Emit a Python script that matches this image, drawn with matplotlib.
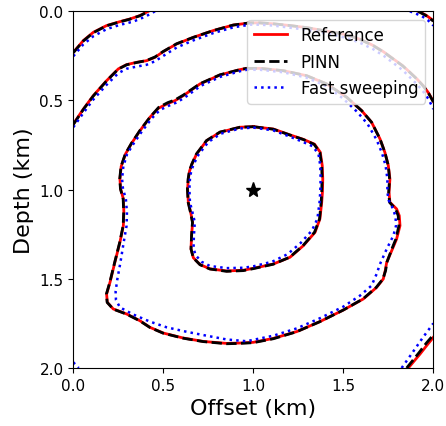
import matplotlib
matplotlib.use("Agg")
import matplotlib.pyplot as plt

# source position (km)
src_x, src_z = 1.0, 1.0

# traced isochrons, (offset, depth) in km
ref_c1 = [(1.0, 0.647), (1.111, 0.660), (1.204, 0.693), (1.278, 0.718), (1.340, 0.745),
          (1.372, 0.790), (1.383, 0.865), (1.386, 0.940), (1.384, 1.015), (1.380, 1.071),
          (1.370, 1.164), (1.343, 1.239), (1.278, 1.314), (1.204, 1.379), (1.111, 1.417),
          (1.0, 1.441), (0.944, 1.452), (0.852, 1.456), (0.759, 1.444), (0.704, 1.420),
          (0.667, 1.382), (0.654, 1.333), (0.657, 1.258), (0.663, 1.183), (0.652, 1.127),
          (0.639, 1.071), (0.635, 0.996), (0.639, 0.940), (0.646, 0.895), (0.660, 0.855),
          (0.685, 0.800), (0.741, 0.725), (0.815, 0.678), (0.926, 0.650), (1.0, 0.647)]
pinn_c1 = [(1.0, 0.647), (1.111, 0.661), (1.204, 0.694), (1.278, 0.719), (1.338, 0.746),
           (1.370, 0.792), (1.380, 0.865), (1.382, 0.940), (1.380, 1.015), (1.377, 1.071),
           (1.368, 1.164), (1.340, 1.239), (1.276, 1.314), (1.202, 1.379), (1.111, 1.418),
           (1.0, 1.443), (0.944, 1.454), (0.852, 1.458), (0.759, 1.445), (0.704, 1.421),
           (0.667, 1.383), (0.654, 1.333), (0.657, 1.258), (0.662, 1.183), (0.651, 1.127),
           (0.638, 1.071), (0.634, 0.996), (0.638, 0.940), (0.645, 0.895), (0.659, 0.855),
           (0.684, 0.800), (0.740, 0.725), (0.815, 0.677), (0.926, 0.650), (1.0, 0.647)]
fs_c1 = [(1.0, 0.652), (1.111, 0.668), (1.204, 0.703), (1.270, 0.730), (1.330, 0.757),
         (1.362, 0.800), (1.372, 0.865), (1.374, 0.940), (1.372, 1.015), (1.368, 1.071),
         (1.356, 1.164), (1.325, 1.230), (1.262, 1.300), (1.190, 1.362), (1.105, 1.404),
         (1.0, 1.430), (0.944, 1.438), (0.852, 1.440), (0.759, 1.428), (0.712, 1.404),
         (0.680, 1.368), (0.668, 1.330), (0.670, 1.258), (0.675, 1.183), (0.662, 1.127),
         (0.648, 1.071), (0.645, 0.996), (0.648, 0.940), (0.655, 0.895), (0.669, 0.857),
         (0.695, 0.805), (0.750, 0.733), (0.820, 0.686), (0.926, 0.657), (1.0, 0.652)]

ref_c2 = [(0.963, 0.320), (1.037, 0.320), (1.167, 0.333), (1.296, 0.361), (1.407, 0.407),
          (1.519, 0.482), (1.602, 0.557), (1.657, 0.622), (1.704, 0.716), (1.731, 0.791),
          (1.750, 0.865), (1.759, 0.940), (1.754, 1.015), (1.759, 1.071), (1.796, 1.108),
          (1.811, 1.146), (1.815, 1.202), (1.796, 1.277), (1.769, 1.342), (1.741, 1.408),
          (1.733, 1.454), (1.722, 1.501), (1.685, 1.548), (1.611, 1.613), (1.500, 1.675),
          (1.370, 1.740), (1.241, 1.796), (1.111, 1.834), (1.0, 1.856), (0.926, 1.860),
          (0.852, 1.862), (0.722, 1.851), (0.611, 1.832), (0.500, 1.804), (0.426, 1.772),
          (0.370, 1.735), (0.296, 1.697), (0.222, 1.669), (0.189, 1.632), (0.185, 1.585),
          (0.204, 1.519), (0.231, 1.407), (0.259, 1.295), (0.278, 1.202), (0.281, 1.127),
          (0.278, 1.052), (0.263, 0.996), (0.259, 0.940), (0.266, 0.870), (0.290, 0.800),
          (0.324, 0.740), (0.370, 0.670), (0.426, 0.594), (0.472, 0.544), (0.519, 0.520),
          (0.565, 0.501), (0.611, 0.473), (0.704, 0.407), (0.815, 0.357), (0.926, 0.327),
          (0.963, 0.320)]
pinn_c2 = [(0.963, 0.320), (1.037, 0.320), (1.167, 0.333), (1.296, 0.361), (1.407, 0.407),
           (1.519, 0.482), (1.602, 0.557), (1.657, 0.622), (1.704, 0.716), (1.731, 0.791),
           (1.750, 0.865), (1.757, 0.940), (1.752, 1.015), (1.757, 1.071), (1.790, 1.108),
           (1.805, 1.146), (1.809, 1.202), (1.792, 1.277), (1.766, 1.342), (1.742, 1.408),
           (1.735, 1.454), (1.720, 1.501), (1.683, 1.548), (1.609, 1.613), (1.498, 1.676),
           (1.368, 1.741), (1.240, 1.797), (1.111, 1.836), (1.0, 1.858), (0.926, 1.862),
           (0.852, 1.864), (0.722, 1.852), (0.611, 1.833), (0.500, 1.805), (0.426, 1.773),
           (0.370, 1.736), (0.296, 1.698), (0.222, 1.670), (0.188, 1.632), (0.184, 1.585),
           (0.203, 1.519), (0.230, 1.407), (0.258, 1.295), (0.277, 1.202), (0.280, 1.127),
           (0.277, 1.052), (0.262, 0.996), (0.258, 0.940), (0.265, 0.870), (0.289, 0.800),
           (0.323, 0.740), (0.369, 0.670), (0.426, 0.594), (0.475, 0.538), (0.525, 0.512),
           (0.565, 0.497), (0.611, 0.470), (0.704, 0.406), (0.815, 0.356), (0.926, 0.327),
           (0.963, 0.320)]
fs_c2 = [(0.963, 0.328), (1.037, 0.328), (1.167, 0.342), (1.296, 0.372), (1.407, 0.420),
         (1.500, 0.490), (1.578, 0.565), (1.635, 0.632), (1.685, 0.720), (1.715, 0.795),
         (1.735, 0.865), (1.745, 0.940), (1.745, 1.015), (1.752, 1.060), (1.775, 1.105),
         (1.790, 1.150), (1.793, 1.202), (1.778, 1.258), (1.741, 1.333), (1.704, 1.417),
         (1.685, 1.473), (1.657, 1.538), (1.593, 1.594), (1.500, 1.656), (1.370, 1.721),
         (1.241, 1.778), (1.111, 1.819), (1.0, 1.842), (0.963, 1.850), (0.852, 1.840),
         (0.741, 1.819), (0.630, 1.797), (0.519, 1.772), (0.426, 1.740), (0.333, 1.700),
         (0.259, 1.660), (0.237, 1.618), (0.235, 1.570), (0.245, 1.500), (0.262, 1.407),
         (0.280, 1.295), (0.296, 1.202), (0.298, 1.127), (0.292, 1.052), (0.276, 0.996),
         (0.271, 0.940), (0.278, 0.870), (0.299, 0.800), (0.333, 0.745), (0.380, 0.675),
         (0.436, 0.600), (0.482, 0.553), (0.527, 0.531), (0.572, 0.512), (0.617, 0.485),
         (0.708, 0.418), (0.818, 0.367), (0.926, 0.336), (0.963, 0.328)]

ref_c3 = [(0.0, 0.632), (0.056, 0.548), (0.111, 0.473), (0.185, 0.389), (0.250, 0.323),
          (0.296, 0.299), (0.352, 0.286), (0.407, 0.277), (0.454, 0.258), (0.500, 0.226),
          (0.574, 0.183), (0.667, 0.146), (0.778, 0.108), (0.889, 0.077), (0.981, 0.065),
          (1.037, 0.065), (1.111, 0.070), (1.204, 0.080), (1.300, 0.092), (1.389, 0.108),
          (1.470, 0.122), (1.537, 0.136), (1.600, 0.160), (1.667, 0.192), (1.725, 0.228),
          (1.778, 0.267), (1.830, 0.305), (1.870, 0.342), (1.910, 0.380), (1.944, 0.417),
          (1.975, 0.460), (2.0, 0.505)]
pinn_c3 = [(0.0, 0.635), (0.056, 0.550), (0.111, 0.475), (0.185, 0.390), (0.250, 0.324),
           (0.296, 0.300), (0.352, 0.287), (0.407, 0.276), (0.454, 0.256), (0.500, 0.225),
           (0.574, 0.182), (0.667, 0.146), (0.778, 0.108), (0.889, 0.077), (0.981, 0.065),
           (1.037, 0.065), (1.111, 0.070), (1.204, 0.080), (1.300, 0.092), (1.389, 0.108),
           (1.470, 0.122), (1.537, 0.137), (1.600, 0.161), (1.667, 0.193), (1.725, 0.229),
           (1.778, 0.268), (1.830, 0.306), (1.870, 0.343), (1.910, 0.381), (1.944, 0.419),
           (1.975, 0.462), (2.0, 0.508)]
fs_c3 = [(0.0, 0.650), (0.056, 0.570), (0.111, 0.495), (0.185, 0.412), (0.250, 0.347),
         (0.296, 0.322), (0.352, 0.310), (0.407, 0.300), (0.454, 0.280), (0.500, 0.250),
         (0.574, 0.203), (0.667, 0.163), (0.778, 0.122), (0.889, 0.090), (0.981, 0.075),
         (1.037, 0.075), (1.111, 0.080), (1.204, 0.092), (1.300, 0.104), (1.389, 0.122),
         (1.470, 0.138), (1.537, 0.155), (1.600, 0.180), (1.667, 0.213), (1.725, 0.250),
         (1.778, 0.290), (1.830, 0.330), (1.870, 0.370), (1.910, 0.410), (1.944, 0.450),
         (1.975, 0.495), (2.0, 0.548)]

ref_c4 = [(0.0, 0.230), (0.056, 0.164), (0.111, 0.118), (0.185, 0.080), (0.259, 0.058),
          (0.315, 0.043), (0.370, 0.024), (0.417, 0.0)]
pinn_c4 = [(0.0, 0.232), (0.056, 0.166), (0.111, 0.120), (0.185, 0.081), (0.259, 0.059),
           (0.315, 0.044), (0.370, 0.025), (0.419, 0.0)]
fs_c4 = [(0.0, 0.252), (0.056, 0.185), (0.111, 0.140), (0.185, 0.100), (0.259, 0.076),
         (0.333, 0.058), (0.400, 0.030), (0.454, 0.0)]

ref_c5 = [(1.917, 0.0), (1.960, 0.022), (2.0, 0.052)]
pinn_c5 = [(1.915, 0.0), (1.958, 0.023), (2.0, 0.055)]
fs_c5 = [(1.870, 0.0), (1.935, 0.026), (1.970, 0.050), (2.0, 0.080)]

ref_c6 = [(1.861, 2.0), (1.926, 1.922), (1.965, 1.872), (2.0, 1.828)]
pinn_c6 = [(1.852, 2.0), (1.920, 1.915), (1.960, 1.862), (2.0, 1.815)]
fs_c6 = [(1.824, 2.0), (1.880, 1.920), (1.940, 1.832), (2.0, 1.750)]
fs_c7 = [(0.0, 1.968), (0.030, 2.0)]

ref_lines = [ref_c1, ref_c2, ref_c3, ref_c4, ref_c5, ref_c6]
pinn_lines = [pinn_c1, pinn_c2, pinn_c3, pinn_c4, pinn_c5, pinn_c6]
fs_lines = [fs_c1, fs_c2, fs_c3, fs_c4, fs_c5, fs_c6, fs_c7]


def draw(ax, lines, label, **kw):
    for i, pts in enumerate(lines):
        xs = [p[0] for p in pts]
        zs = [p[1] for p in pts]
        ax.plot(xs, zs, label=label if i == 0 else None, **kw)


fig = plt.figure(figsize=(4.46, 4.27), dpi=100)
ax = fig.add_axes([73.3 / 446, 1 - 369 / 427, 360 / 446, 356.7 / 427])

draw(ax, ref_lines, "Reference", color="red", lw=2.0)
draw(ax, pinn_lines, "PINN", color="black", ls="--", lw=2.0)
draw(ax, fs_lines, "Fast sweeping", color="blue", ls=":", lw=1.8)
ax.plot(src_x, src_z, "k*", markersize=11)

ax.set_xlim(0, 2)
ax.set_ylim(2, 0)
ax.set_xticks([0.0, 0.5, 1.0, 1.5, 2.0])
ax.set_yticks([0.0, 0.5, 1.0, 1.5, 2.0])
ax.tick_params(labelsize=11)
ax.set_xlabel("Offset (km)", fontsize=16)
ax.set_ylabel("Depth (km)", fontsize=16)
ax.legend(loc="upper right", fontsize=12)

fig.savefig("out.png", dpi=100)
